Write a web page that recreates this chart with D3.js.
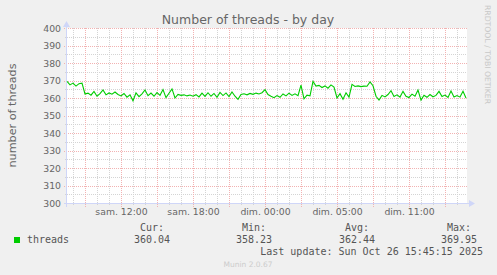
<!DOCTYPE html>
<html>
<head>
<meta charset="utf-8">
<script src="https://cdn.jsdelivr.net/npm/d3@7"></script>
<style>
  html, body { margin: 0; padding: 0; background: #f0f0f0; }
  svg { display: block; }
  text { font-family: "DejaVu Sans", sans-serif; fill: #666666; }
  .mono { font-family: "DejaVu Sans Mono", monospace; fill: #555555; }
</style>
</head>
<body>
<div id="chart"></div>
<script>
// hours counted from Sat 00:00 (real elapsed time, DST change on Sunday)
const startHour = 7.54;
const stepHours = 0.25;

const threads = [
    369.5, 367.5, 368.5, 366.8, 368.2, 368.5, 362.3, 362.8, 361.6, 363.8,
    361.0, 362.5, 364.6, 361.8, 362.9, 362.2, 363.4, 362.0, 361.2, 362.6,
    360.5, 361.8, 358.4, 362.9, 360.8, 362.4, 364.6, 361.3, 362.8, 361.0,
    363.1, 361.5, 364.8, 360.2, 362.7, 365.2, 360.0, 362.0, 361.5, 361.8,
    361.2, 361.7, 361.0, 361.9, 360.6, 362.8, 360.9, 363.0, 361.0, 362.6,
    360.4, 363.2, 361.4, 362.9, 360.8, 363.5, 361.0, 359.2, 362.0, 362.4,
    361.8, 362.6, 362.1, 362.8, 362.3, 363.0, 364.8, 362.0, 361.0, 360.2,
    361.4, 360.4, 362.3, 361.2, 362.8, 361.5, 362.4, 361.3, 367.4, 359.5,
    361.6, 361.2, 369.5, 366.8, 367.2, 366.0, 366.9, 365.6, 367.5, 366.2,
    360.0, 362.5, 359.3, 363.0, 360.5, 367.8, 366.6, 366.9, 366.5, 366.8,
    366.7, 369.2, 367.0, 361.0, 358.8, 361.5, 360.6, 362.0, 364.2, 360.9,
    361.8, 360.5, 363.8, 361.0, 360.3, 362.2, 361.0, 364.5, 358.8, 361.6,
    360.4, 362.0, 360.7, 361.5, 363.8, 360.9, 361.7, 360.3, 364.0, 360.6,
    361.4, 360.5, 363.8, 360.0
];

const xTickHours = [12, 18, 24, 30, 36];
const xTickLabels = ['sam. 12:00', 'sam. 18:00', 'dim. 00:00', 'dim. 05:00', 'dim. 11:00'];
const yTicks = [300, 310, 320, 330, 340, 350, 360, 370, 380, 390, 400];

const legendNames = ['Cur:', 'Min:', 'Avg:', 'Max:'];
const legendValues = ['360.04', '358.23', '362.44', '369.95'];

const width = 497;
const height = 275;
const plot = { left: 67, right: 467, top: 28, bottom: 203 };

const svg = d3.select("#chart")
    .append("svg")
    .attr("width", width)
    .attr("height", height);

svg.append("rect")
    .attr("width", width)
    .attr("height", height)
    .attr("fill", "#f0f0f0");

const x = d3.scaleLinear()
    .domain([startHour, startHour + (plot.right - plot.left) / 12])
    .range([plot.left, plot.right]);

const y = d3.scaleLinear()
    .domain([300, 400])
    .range([plot.bottom, plot.top]);

// canvas
svg.append("rect")
    .attr("x", plot.left)
    .attr("y", plot.top)
    .attr("width", plot.right - plot.left)
    .attr("height", plot.bottom - plot.top)
    .attr("fill", "#ffffff");

const px = v => Math.round(v) + 0.5;
const grid = svg.append("g").attr("shape-rendering", "crispEdges");

// minor grid: every hour, every 5 threads
const hours = d3.range(Math.ceil(x.domain()[0]), x.domain()[1], 1);
const minorHours = hours.filter(h => h % 3 !== 0);
const majorHours = hours.filter(h => h % 3 === 0);
const minorY = d3.range(305, 400, 10);

grid.selectAll(".vminor")
    .data(minorHours)
    .enter()
    .append("line")
    .attr("x1", d => px(x(d))).attr("x2", d => px(x(d)))
    .attr("y1", plot.top).attr("y2", plot.bottom + 3)
    .attr("stroke", "#d4d4d4")
    .attr("stroke-dasharray", "1,1");

grid.selectAll(".hminor")
    .data(minorY)
    .enter()
    .append("line")
    .attr("x1", plot.left - 2).attr("x2", plot.right)
    .attr("y1", d => px(y(d))).attr("y2", d => px(y(d)))
    .attr("stroke", "#d4d4d4")
    .attr("stroke-dasharray", "1,1");

// major grid
grid.selectAll(".vmajor")
    .data(majorHours)
    .enter()
    .append("line")
    .attr("x1", d => px(x(d))).attr("x2", d => px(x(d)))
    .attr("y1", plot.top).attr("y2", plot.bottom + 4)
    .attr("stroke", "#f2b2b2")
    .attr("stroke-dasharray", "1,1");

grid.selectAll(".hmajor")
    .data(yTicks)
    .enter()
    .append("line")
    .attr("x1", plot.left - 3).attr("x2", plot.right)
    .attr("y1", d => px(y(d))).attr("y2", d => px(y(d)))
    .attr("stroke", "#f2b2b2")
    .attr("stroke-dasharray", "1,1");

// axes + arrows
const axisColor = "#cfd6f8";
grid.append("line")
    .attr("x1", plot.left - 0.5).attr("x2", plot.left - 0.5)
    .attr("y1", plot.top - 2).attr("y2", plot.bottom + 4)
    .attr("stroke", axisColor);
grid.append("line")
    .attr("x1", plot.left - 3).attr("x2", plot.right + 3)
    .attr("y1", plot.bottom + 0.5).attr("y2", plot.bottom + 0.5)
    .attr("stroke", axisColor);
svg.append("path")
    .attr("d", `M${plot.left - 4},${plot.top - 1} L${plot.left - 0.5},${plot.top - 7} L${plot.left + 3},${plot.top - 1} Z`)
    .attr("fill", axisColor);
svg.append("path")
    .attr("d", `M${plot.right + 2},${plot.bottom - 3} L${plot.right + 8},${plot.bottom + 0.5} L${plot.right + 2},${plot.bottom + 4} Z`)
    .attr("fill", axisColor);

// data line
const line = d3.line()
    .x((d, i) => x(startHour + i * stepHours))
    .y(d => y(d));

svg.append("path")
    .datum(threads)
    .attr("d", line)
    .attr("fill", "none")
    .attr("stroke", "#00cc00")
    .attr("stroke-width", 1.1);

// y tick labels
svg.selectAll(".ylab")
    .data(yTicks)
    .enter()
    .append("text")
    .attr("x", plot.left - 6)
    .attr("y", d => y(d) + 3.5)
    .attr("text-anchor", "end")
    .attr("font-size", "9.3px")
    .text(d => d);

// x tick labels
svg.selectAll(".xlab")
    .data(xTickHours)
    .enter()
    .append("text")
    .attr("x", d => px(x(d)))
    .attr("y", 215)
    .attr("text-anchor", "middle")
    .attr("font-size", "9.3px")
    .text((d, i) => xTickLabels[i]);

// title
svg.append("text")
    .attr("x", 248)
    .attr("y", 24)
    .attr("text-anchor", "middle")
    .attr("font-size", "12.5px")
    .text("Number of threads - by day");

// y axis title
svg.append("text")
    .attr("transform", `translate(15.5, ${(plot.top + plot.bottom) / 2}) rotate(-90)`)
    .attr("text-anchor", "middle")
    .attr("font-size", "11.2px")
    .text("number of threads");

// watermark
svg.append("text")
    .attr("transform", "translate(485, 5) rotate(90)")
    .attr("text-anchor", "start")
    .attr("font-size", "7.7px")
    .style("fill", "#c8c8c8")
    .text("RRDTOOL / TOBI OETIKER");

// legend
svg.append("rect")
    .attr("x", 14).attr("y", 237)
    .attr("width", 6).attr("height", 6)
    .attr("fill", "#00cc00");
svg.append("text")
    .attr("class", "mono")
    .attr("x", 27).attr("y", 242.5)
    .attr("font-size", "10px")
    .text("threads");

const colX = [134, 236, 339, 441];
svg.selectAll(".lname")
    .data(legendNames)
    .enter()
    .append("text")
    .attr("class", "mono")
    .attr("x", (d, i) => colX[i] + 30)
    .attr("y", 230.5)
    .attr("text-anchor", "end")
    .attr("font-size", "10px")
    .text(d => d);

svg.selectAll(".lval")
    .data(legendValues)
    .enter()
    .append("text")
    .attr("class", "mono")
    .attr("x", (d, i) => colX[i] + 36)
    .attr("y", 242.5)
    .attr("text-anchor", "end")
    .attr("font-size", "10px")
    .text(d => d);

svg.append("text")
    .attr("class", "mono")
    .attr("x", 483)
    .attr("y", 254.5)
    .attr("text-anchor", "end")
    .attr("font-size", "10px")
    .text("Last update: Sun Oct 26 15:45:15 2025");

svg.append("text")
    .attr("x", 248)
    .attr("y", 266.5)
    .attr("text-anchor", "middle")
    .attr("font-size", "7.5px")
    .style("fill", "#cccccc")
    .text("Munin 2.0.67");
</script>
</body>
</html>
